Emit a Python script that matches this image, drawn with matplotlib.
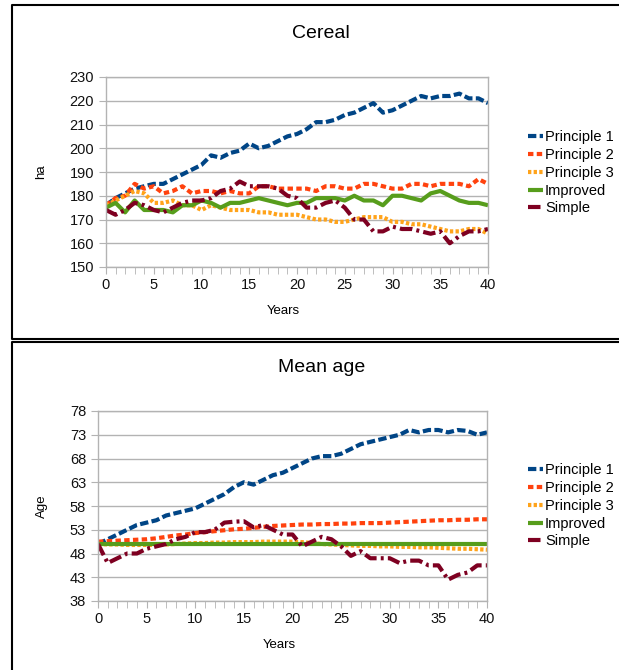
import matplotlib
matplotlib.use("Agg")
import matplotlib.pyplot as plt
from matplotlib.lines import Line2D
from matplotlib.ticker import MultipleLocator

plt.rcParams['font.family'] = ['Liberation Sans', 'DejaVu Sans']

years = list(range(41))
series_names = ["Principle 1", "Principle 2", "Principle 3", "Improved", "Simple"]

# Cereal area (ha)
cereal_p1 = [176, 179, 181, 183, 184, 185, 185, 187, 189, 191, 193, 197, 196, 198, 199, 202, 200, 201,
             203, 205, 206, 208, 211, 211, 212, 214, 215, 217, 219, 215, 216, 218, 220, 222, 221, 222,
             222, 223, 221, 221, 219]
cereal_p2 = [176, 179, 180, 185, 183, 184, 181, 182, 184, 181, 182, 182, 181, 182, 181, 181, 184, 184,
             183, 183, 183, 183, 182, 184, 184, 183, 183, 185, 185, 184, 183, 183, 185, 185, 184, 185,
             185, 185, 184, 187, 185]
cereal_p3 = [176, 178, 180, 182, 181, 177, 177, 178, 176, 176, 174, 176, 175, 174, 174, 174, 173, 173,
             172, 172, 172, 171, 170, 170, 169, 169, 170, 171, 171, 171, 169, 169, 168, 168, 167, 166,
             165, 165, 166, 166, 164]
cereal_improved = [175, 177, 173, 178, 174, 174, 174, 173, 176, 176, 178, 177, 175, 177, 177, 178, 179,
                   178, 177, 176, 177, 177, 179, 179, 179, 178, 180, 178, 178, 176, 180, 180, 179, 178,
                   181, 182, 180, 178, 177, 177, 176]
cereal_simple = [174, 172, 174, 177, 176, 174, 173, 175, 177, 178, 178, 179, 182, 183, 186, 184, 184,
                 184, 183, 180, 179, 175, 175, 177, 178, 175, 170, 170, 165, 165, 167, 166, 166, 165,
                 164, 165, 160, 163, 165, 165, 166]

# Mean age
age_p1 = [50, 51, 52, 53, 54, 54.5, 55, 56, 56.5, 57, 57.5, 58.5, 59.5, 60.5, 62, 63, 62.5, 63.5, 64.5,
          65, 66, 67, 68, 68.5, 68.5, 69, 70, 71, 71.5, 72, 72.5, 73, 74, 73.5, 74, 74, 73.5, 74, 73.8,
          73, 73.5]
age_p2 = [50.5, 50.6, 50.7, 50.8, 50.9, 51, 51.2, 51.5, 51.8, 52, 52.3, 52.5, 52.7, 52.9, 53.1, 53.2,
          53.4, 53.6, 53.8, 53.9, 54, 54.1, 54.1, 54.2, 54.2, 54.3, 54.3, 54.4, 54.4, 54.4, 54.5, 54.6,
          54.7, 54.8, 54.9, 55, 55, 55.1, 55.1, 55.2, 55.2]
age_p3 = [50, 49.9, 49.9, 49.8, 49.8, 49.8, 49.8, 49.9, 50, 50.1, 50.2, 50.2, 50.3, 50.3, 50.4, 50.4,
          50.4, 50.5, 50.5, 50.5, 50.5, 50.4, 50.2, 50, 49.9, 49.8, 49.7, 49.6, 49.6, 49.5, 49.5, 49.4,
          49.4, 49.3, 49.3, 49.2, 49.1, 49, 49, 48.9, 48.8]
age_improved = [50] * 41
age_simple = [50, 46, 47, 48, 48, 49, 49.5, 50, 51, 51.5, 52.5, 52.5, 53, 54.5, 54.7, 54.8, 53.5, 54,
              53, 52, 52, 49.5, 50.5, 51.5, 51, 49.5, 47.5, 48.5, 47, 47, 47, 46, 46.5, 46.5, 45.5,
              45.5, 42.5, 43.5, 44, 45.5, 45.5]

cereal_ticks = list(range(150, 231, 10))
age_ticks = list(range(38, 79, 5))

colors = ["#004586", "#ff420e", "#ffa31a", "#579d1c", "#7e0021"]
dashes = [(2.0, 0.8), (1.3, 0.8), (0.8, 0.55), None, (3.0, 1.0, 0.7, 1.0)]
grey = "#b3b3b3"

W, H = 619, 670
fig = plt.figure(figsize=(W / 100, H / 100), dpi=100)


def px_axes(left, top, right, bottom):
    return fig.add_axes([left / W, 1 - bottom / H, (right - left) / W, (bottom - top) / H])


def draw_panel(ax, data, ylim, yticks, ylabel, ylab_x, legend_top):
    for name, values, c, d in zip(series_names, data, colors, dashes):
        line, = ax.plot(years, values, color=c, lw=3, label=name, solid_capstyle="butt")
        if d is not None:
            line.set_dashes(d)
    ax.set_xlim(0, 40)
    ax.set_ylim(*ylim)
    ax.set_yticks(yticks)
    ax.xaxis.set_major_locator(MultipleLocator(5))
    ax.xaxis.set_minor_locator(MultipleLocator(1))
    ax.grid(axis="y", color=grey, lw=1)
    ax.set_axisbelow(True)
    for s in ax.spines.values():
        s.set_color(grey)
        s.set_linewidth(1)
    ax.tick_params(axis="both", which="both", direction="out", length=5, color=grey,
                   labelsize=10.5, labelcolor="#111111")
    ax.tick_params(axis="x", pad=3)
    ax.set_ylabel(ylabel, fontsize=9.5)
    ax.yaxis.set_label_coords(ylab_x, 0.5)
    ax.set_xlabel("Years", fontsize=9.5)
    ax.xaxis.set_label_coords(0.465, -0.2)
    ax.legend(loc="upper left", bbox_to_anchor=(521 / W, 1 - legend_top / H),
              bbox_transform=fig.transFigure, frameon=False, fontsize=10.5,
              handlelength=1.0, handletextpad=0.15, labelspacing=0.26, borderpad=0)


ax1 = px_axes(106, 77, 488, 267)
draw_panel(ax1, [cereal_p1, cereal_p2, cereal_p3, cereal_improved, cereal_simple],
           (150, 230), cereal_ticks, "ha", -0.155, 123)
fig.text(321 / W, 1 - 33 / H, "Cereal", ha="center", va="center", fontsize=14)

ax2 = px_axes(98, 411, 487, 601)
draw_panel(ax2, [age_p1, age_p2, age_p3, age_improved, age_simple],
           (38, 78), age_ticks, "Age", -0.128, 456)
fig.text(322 / W, 1 - 367 / H, "Mean age", ha="center", va="center", fontsize=14)

# panel frames
def fig_line(xs, ys):
    fig.add_artist(Line2D([x / W for x in xs], [1 - y / H for y in ys],
                          color="black", lw=1.5, transform=fig.transFigure))

fig_line([W + 5, 12, 12, W + 5], [5, 5, 339, 339])
fig_line([W + 5, 12, 12], [342, 342, H + 5])

fig.savefig("out.png", dpi=100)
